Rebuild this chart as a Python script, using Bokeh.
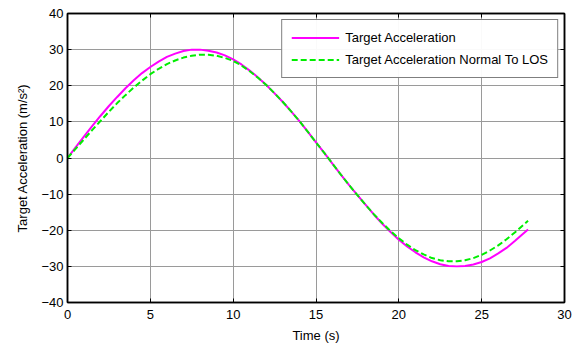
from bokeh.plotting import figure
from bokeh.models import LinearAxis, Range1d, FixedTicker, Legend, LegendItem
from bokeh.embed import file_html
from bokeh.resources import INLINE

time_s = [0, 0.5, 1, 1.5, 2, 2.5, 3, 3.5, 4, 4.5, 5, 5.5, 6, 6.5, 7, 7.5, 8, 8.5, 9, 9.5,
          10, 10.5, 11, 11.5, 12, 12.5, 13, 13.5, 14, 14.5, 15, 15.5, 16, 16.5, 17, 17.5,
          18, 18.5, 19, 19.5, 20, 20.5, 21, 21.5, 22, 22.5, 23, 23.5, 24, 24.5, 25, 25.5,
          26, 26.5, 27, 27.5, 27.8]
target_acc = [0, 3.0, 6.0, 8.9, 11.7, 14.4, 16.9, 19.3, 21.5, 23.5, 25.2, 26.7, 28.0, 28.9,
              29.6, 30.0, 30.0, 29.7, 29.2, 28.4, 27.3, 25.9, 24.2, 22.3, 20.2, 17.9, 15.5,
              12.9, 10.2, 7.3, 4.3, 1.4, -1.6, -4.6, -7.5, -10.3, -13.0, -15.7, -18.2, -20.5,
              -22.6, -24.5, -26.1, -27.5, -28.6, -29.4, -29.9, -30.0, -29.9, -29.5, -28.8,
              -27.8, -26.4, -24.9, -23.0, -21.0, -19.8]
target_acc_normal = [0, 2.6, 5.2, 7.8, 10.3, 12.8, 15.2, 17.4, 19.5, 21.4, 23.2, 24.7, 26.0,
                     27.0, 27.8, 28.3, 28.6, 28.6, 28.3, 27.7, 26.9, 25.6, 24.0, 22.2, 20.2,
                     17.9, 15.5, 12.9, 10.2, 7.3, 4.3, 1.4, -1.6, -4.6, -7.5, -10.3, -13.0,
                     -15.6, -18.0, -20.2, -22.2, -24.0, -25.5, -26.7, -27.7, -28.3, -28.6,
                     -28.6, -28.3, -27.7, -26.8, -25.6, -24.2, -22.5, -20.6, -18.6, -17.4]
x_ticks = [0, 5, 10, 15, 20, 25, 30]
y_ticks = [-40, -30, -20, -10, 0, 10, 20, 30, 40]

FONT = "Liberation Sans"
FS = "13px"

p = figure(width=574, height=345, output_backend="svg", toolbar_location=None,
           x_range=Range1d(0, 30), y_range=Range1d(-40, 40),
           min_border_left=67, min_border_right=10, min_border_top=13, min_border_bottom=42)
p.background_fill_color = "white"
p.border_fill_color = "white"
p.outline_line_color = "black"
p.outline_line_width = 1.5

xb = p.below[0]
yl = p.left[0]
ax_top = LinearAxis()
ax_right = LinearAxis()
p.add_layout(ax_top, "above")
p.add_layout(ax_right, "right")

for ax, ticks in [(xb, x_ticks), (ax_top, x_ticks), (yl, y_ticks), (ax_right, y_ticks)]:
    ax.ticker = FixedTicker(ticks=ticks)
    ax.major_tick_in = 4
    ax.major_tick_out = 0
    ax.minor_tick_line_color = None
    ax.axis_line_color = "black"
    ax.axis_line_width = 1.5
    ax.major_tick_line_color = "black"
    ax.major_label_text_font = FONT
    ax.major_label_text_font_size = FS
    ax.major_label_text_color = "black"

for ax, ticks in [(ax_top, x_ticks), (ax_right, y_ticks)]:
    ax.major_label_overrides = {t: "" for t in ticks}
    ax.major_label_standoff = 0

xb.axis_label = "Time (s)"
yl.axis_label = "Target Acceleration (m/s²)"
for ax in [xb, yl]:
    ax.axis_label_text_font = FONT
    ax.axis_label_text_font_size = FS
    ax.axis_label_text_font_style = "normal"
    ax.axis_label_text_color = "black"
xb.axis_label_standoff = 6
yl.axis_label_standoff = 8
xb.major_label_standoff = 7
yl.major_label_standoff = 4

p.xgrid.ticker = FixedTicker(ticks=x_ticks)
p.ygrid.ticker = FixedTicker(ticks=y_ticks)
p.grid.grid_line_color = "#9a9a9a"
p.grid.grid_line_width = 1

r1 = p.line(time_s, target_acc, line_color="#ff00ff", line_width=2)
r2 = p.line(time_s, target_acc_normal, line_color="#00ee00", line_width=2, line_dash="6 3")

legend = Legend(items=[LegendItem(label="Target Acceleration", renderers=[r1]),
                       LegendItem(label="Target Acceleration Normal To LOS", renderers=[r2])],
                location="top_right")
legend.label_text_font = FONT
legend.label_text_font_size = FS
legend.label_text_color = "black"
legend.border_line_color = "black"
legend.border_line_width = 1
legend.glyph_width = 48
legend.glyph_height = 17
legend.label_height = 17
legend.label_standoff = 6
legend.spacing = 5
legend.padding = 9
legend.margin = 6
p.add_layout(legend)

open("out.html", "w").write(file_html(p, INLINE))
